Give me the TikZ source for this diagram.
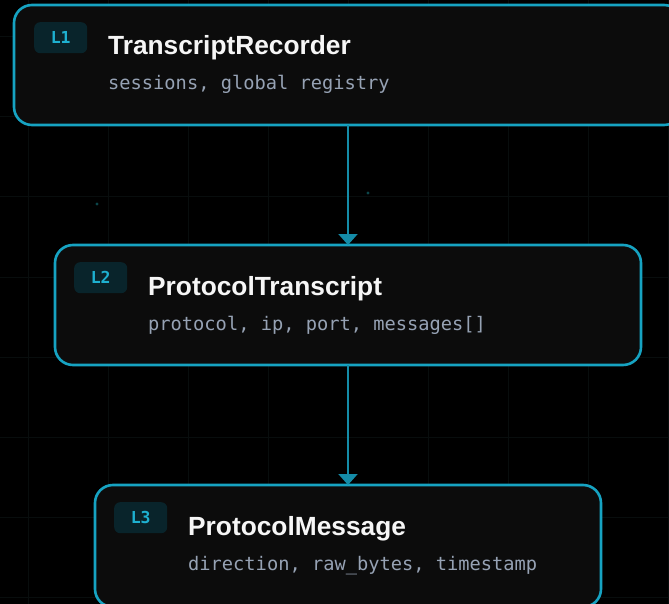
\documentclass[tikz,border=0pt]{standalone}
\usepackage{fontspec}
\setmainfont{Liberation Sans}
\setmonofont{DejaVu Sans Mono}
\usetikzlibrary{arrows.meta}

\definecolor{canvas}{RGB}{0,0,0}
\definecolor{gridc}{RGB}{8,13,13}
\definecolor{panel}{RGB}{12,12,12}
\definecolor{edge}{RGB}{22,163,194}
\definecolor{flowc}{RGB}{20,140,168}
\definecolor{badgefill}{RGB}{9,36,43}
\definecolor{badgetext}{RGB}{30,176,208}
\definecolor{titlec}{RGB}{246,246,246}
\definecolor{subc}{RGB}{150,162,180}
\definecolor{speck}{RGB}{12,70,74}

\tikzset{
  layerbox/.style={draw=edge, fill=panel, line width=2.6pt, rounded corners=18pt,
    anchor=north west, inner sep=0pt, outer sep=0pt},
  badge/.style={fill=badgefill, rounded corners=6pt, anchor=north west,
    minimum width=53pt, minimum height=31pt, inner sep=0pt,
    text=badgetext, font=\ttfamily\bfseries\fontsize{16.5}{18}\selectfont},
  titletext/.style={anchor=base west, inner sep=0pt, text=titlec,
    font=\bfseries\fontsize{26.3}{30}\selectfont},
  subtext/.style={anchor=base west, inner sep=0pt, text=subc,
    font=\ttfamily\fontsize{18.7}{22}\selectfont},
  flow/.style={draw=flowc, line width=2pt,
    -{Triangle[width=19pt,length=11pt]}},
  gridline/.style={draw=gridc, line width=1pt}
}

\begin{document}
\begin{tikzpicture}[x=1pt,y=-1pt]
\useasboundingbox (0,0) rectangle (669,604);
\clip (0,0) rectangle (669,604);
\fill[canvas] (0,0) rectangle (669,604);

% faint background grid
\foreach \gx in {28,108,...,668} \draw[gridline] (\gx,0) -- (\gx,604);
\foreach \gy in {37,117,...,597} \draw[gridline] (0,\gy) -- (669,\gy);

% stray specks
\fill[speck] (97,204) circle (1.6pt);
\fill[speck] (368,193) circle (1.6pt);

% layer boxes
\node[layerbox, minimum width=668pt, minimum height=120pt] (rec) at (14,5) {};
\node[layerbox, minimum width=586pt, minimum height=120pt] (tra) at (55,245) {};
\node[layerbox, minimum width=506pt, minimum height=122pt] (msg) at (95,485) {};

% connectors
\draw[flow] (rec.south) -- (tra.north);
\draw[flow] (tra.south) -- (msg.north);

% layer 1
\node[badge] (b1) at (34,22) {L1};
\node[titletext] (t1) at (108,55) {TranscriptRecorder};
\node[subtext] (s1) at (108,90) {sessions, global registry};

% layer 2
\node[badge] (b2) at (74,262) {L2};
\node[titletext] (t2) at (148,295) {ProtocolTranscript};
\node[subtext] (s2) at (148,330) {protocol, ip, port, messages[]};

% layer 3
\node[badge] (b3) at (114,502) {L3};
\node[titletext] (t3) at (188,535) {ProtocolMessage};
\node[subtext] (s3) at (188,570) {direction, raw\_bytes, timestamp};
\end{tikzpicture}
\end{document}
